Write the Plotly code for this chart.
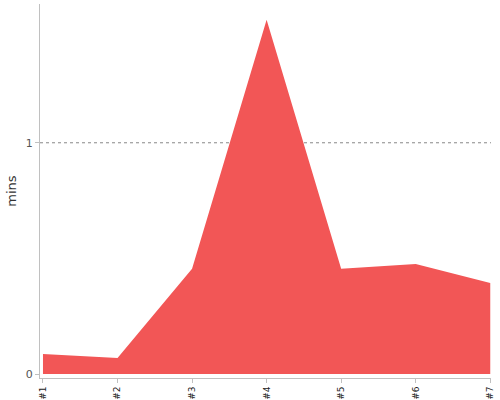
import plotly.graph_objects as go

CATEGORIES = ["#1", "#2", "#3", "#4", "#5", "#6", "#7"]
MINS = [0.087, 0.069, 0.455, 1.532, 0.455, 0.476, 0.394]
Y_TICKS = [0, 1]
GRID_AT = [1]  # only the 1-minute line is drawn as a dotted rule

RED = "#f25656"
AXIS_GRAY = "#c0c0c0"
Y_RANGE = [-0.017, 1.6]

fig = go.Figure(go.Scatter(
    x=CATEGORIES, y=MINS, mode="lines", fill="tozeroy",
    fillcolor=RED, line=dict(color=RED, width=0), hoverinfo="x+y"
))

# dotted rule under the area (a real grid would also show a line at 0)
for g in GRID_AT:
    fig.add_hline(y=g, line=dict(color="#888", width=1, dash="dot"), layer="below")

fig.update_layout(
    width=500, height=400, autosize=False,
    plot_bgcolor="white", paper_bgcolor="white",
    margin=dict(l=40, r=9, t=4, b=22),
    showlegend=False,
    font=dict(family="DejaVu Sans", color="#444"),
)
fig.update_xaxes(
    type="category", range=[-0.04, 6.01], automargin=False,
    showgrid=False, zeroline=False,
    showline=True, linecolor=AXIS_GRAY, linewidth=1,
    ticks="outside", ticklen=4, tickcolor=AXIS_GRAY,
    tickangle=-90, tickfont=dict(size=9, color="#222"),
)
fig.update_yaxes(
    range=Y_RANGE, tickvals=Y_TICKS, ticktext=[str(t) for t in Y_TICKS], automargin=False,
    showgrid=False, zeroline=False,
    showline=True, linecolor=AXIS_GRAY, linewidth=1,
    ticks="outside", ticklen=4, tickcolor=AXIS_GRAY,
    tickfont=dict(size=11, color="#555"),
    title=dict(text="mins", font=dict(size=13, color="#333"), standoff=6),
)

# the page body has an 8px default margin; drop it so the figure sits at the corner
fig.write_html("out.html", config={"displayModeBar": False},
               post_script="document.body.style.margin='0';")
